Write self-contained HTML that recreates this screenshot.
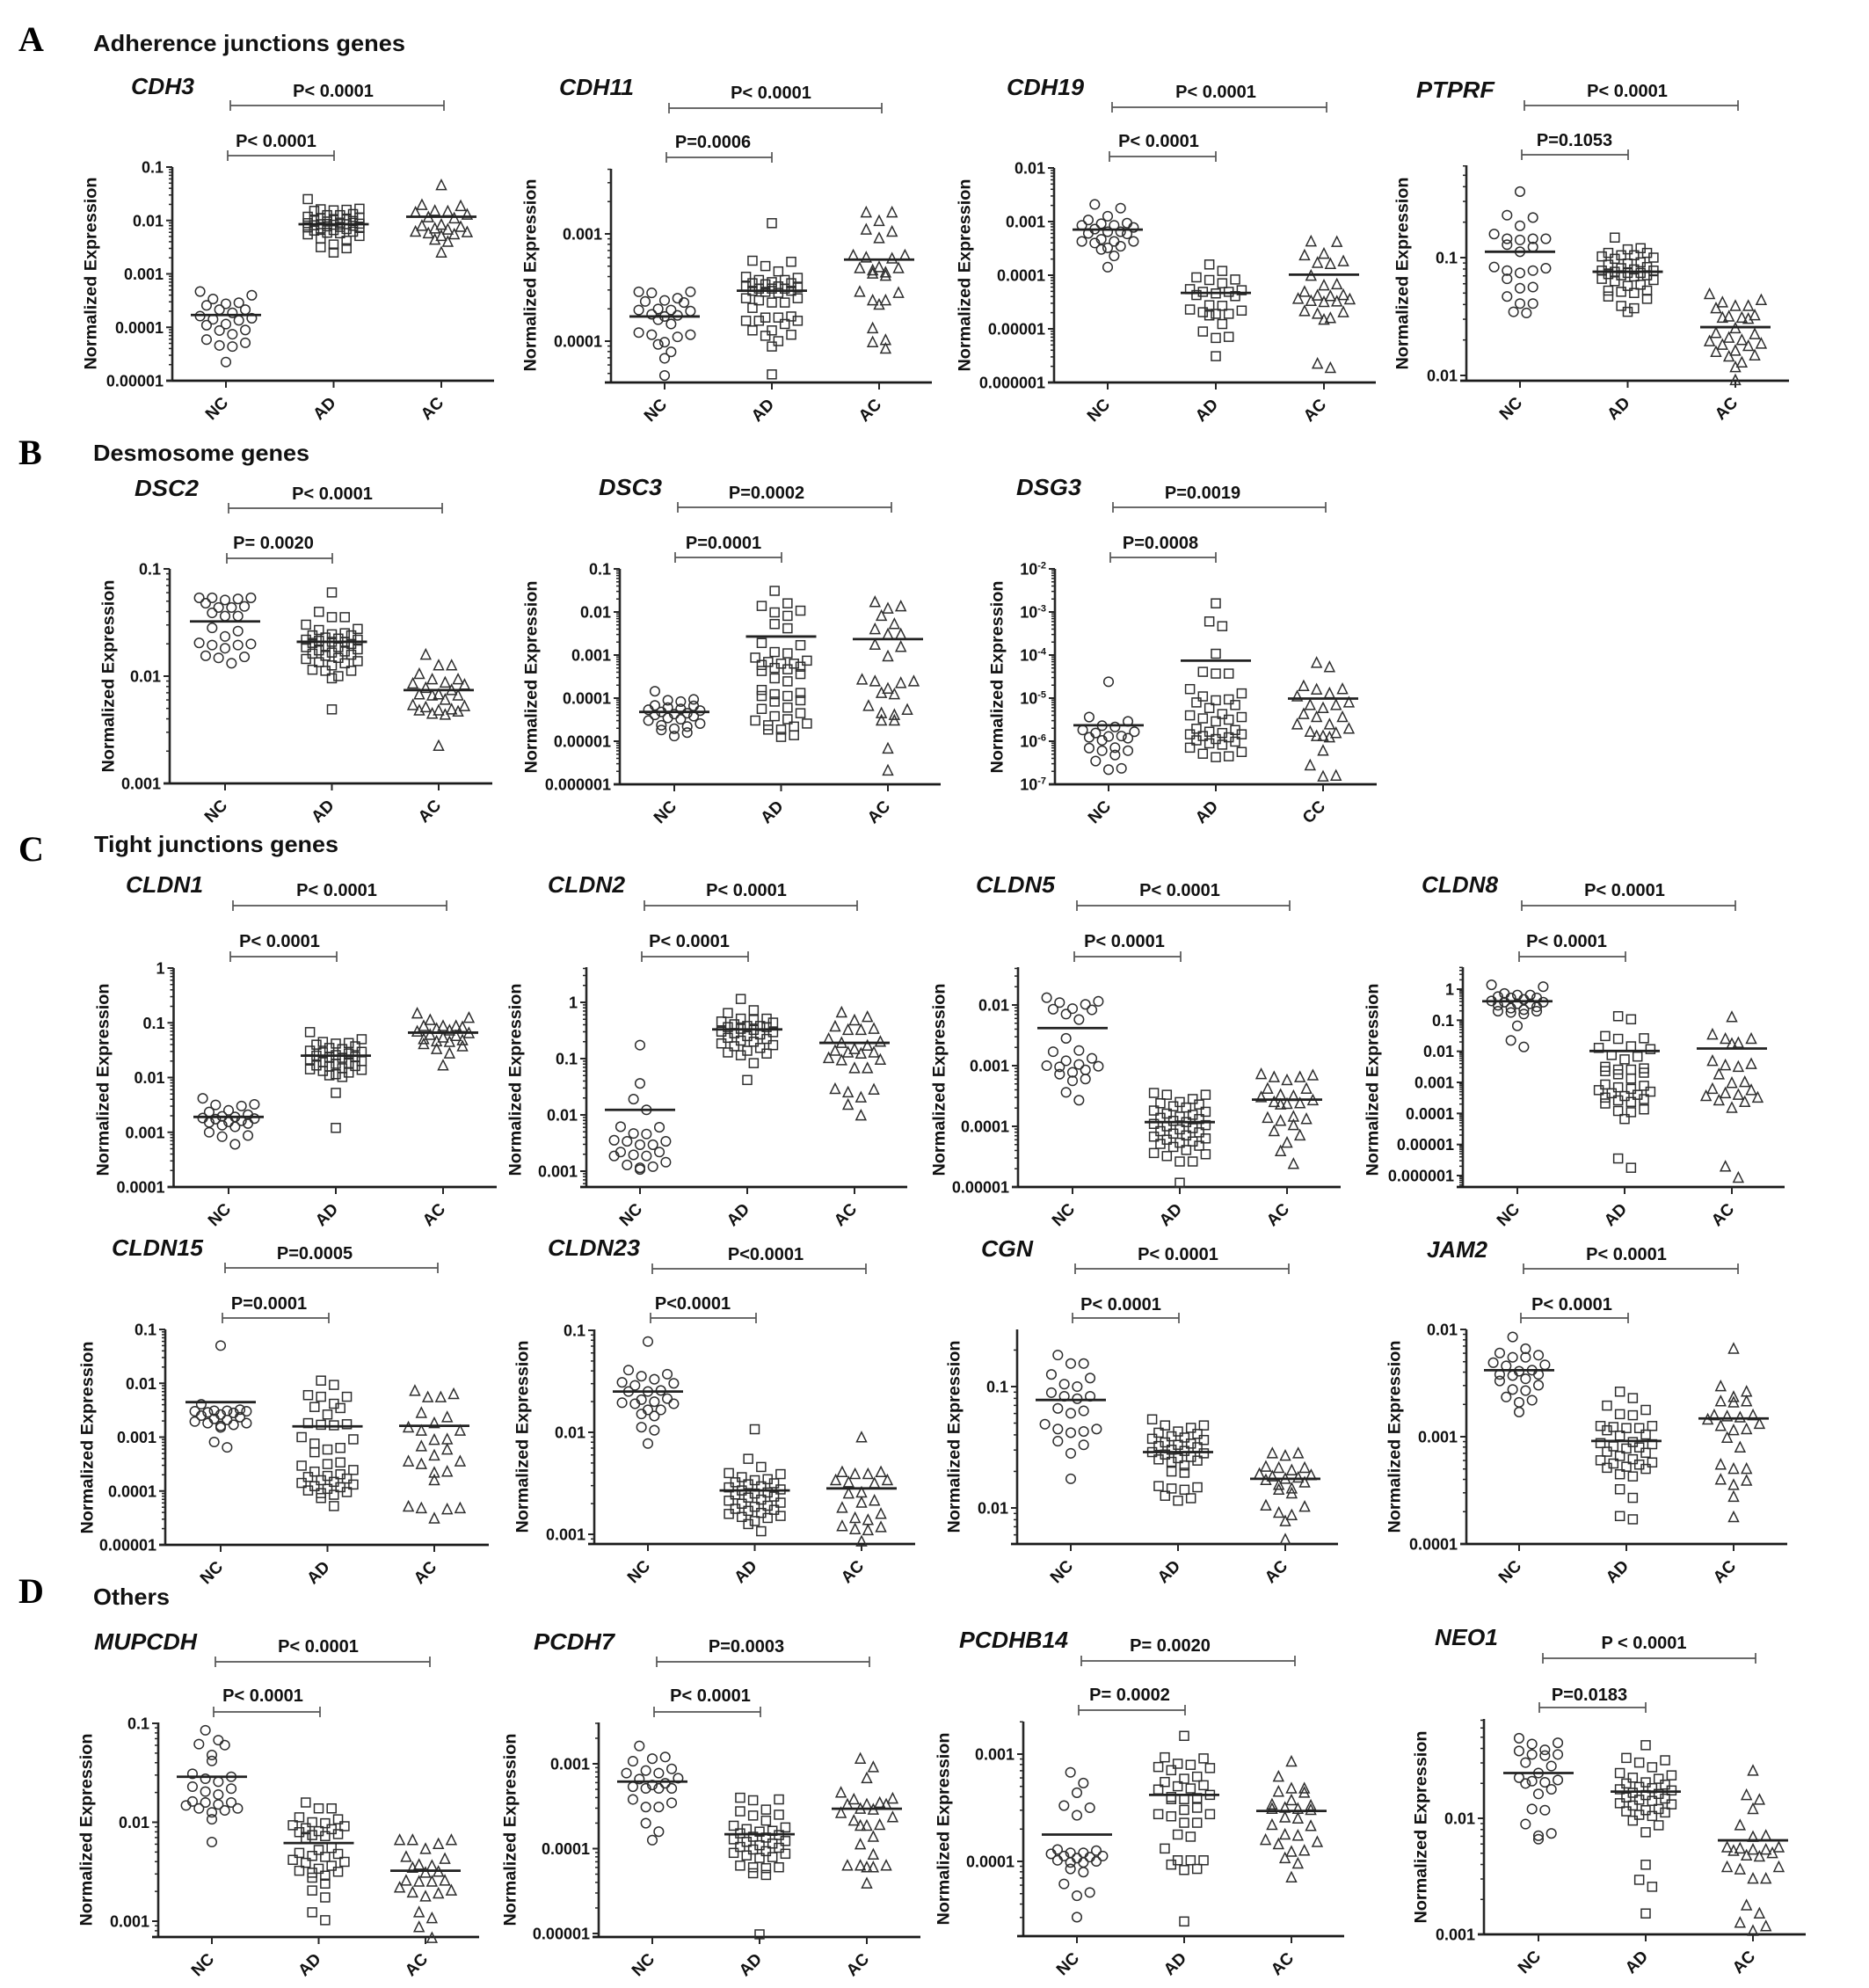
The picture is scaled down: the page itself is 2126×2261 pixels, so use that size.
<!DOCTYPE html>
<html lang="en">
<head>
<meta charset="utf-8">
<title>Normalized expression of junction genes</title>
<style>
html,body{margin:0;padding:0;background:#fff;}
svg{display:block;font-family:"Liberation Sans",sans-serif;}
.letter{font-family:"Liberation Serif",serif;font-weight:bold;font-size:40px;fill:#000;}
.head{font-weight:bold;font-size:26px;fill:#111;}
.gene{font-weight:bold;font-style:italic;font-size:26px;fill:#111;}
.p{font-weight:bold;font-size:20px;fill:#111;text-anchor:middle;}
.b{fill:none;stroke:#555;stroke-width:1.7;}
</style>
</head>
<body>
<svg id="figure" xmlns="http://www.w3.org/2000/svg" width="2126" height="2261" viewBox="0 0 2126 2261">
<rect width="2126" height="2261" fill="#fff"/>
<text class="letter" x="21" y="58">A</text>
<text class="head" x="106" y="58" textLength="355" lengthAdjust="spacingAndGlyphs">Adherence junctions genes</text>
<text class="letter" x="21" y="528">B</text>
<text class="head" x="106" y="524" textLength="246" lengthAdjust="spacingAndGlyphs">Desmosome genes</text>
<text class="letter" x="21" y="979">C</text>
<text class="head" x="107" y="969" textLength="278" lengthAdjust="spacingAndGlyphs">Tight junctions genes</text>
<text class="letter" x="21" y="1823">D</text>
<text class="head" x="106" y="1825" textLength="87" lengthAdjust="spacingAndGlyphs">Others</text>

<text class="gene" x="149" y="107" textLength="72" lengthAdjust="spacingAndGlyphs">CDH3</text>
<text class="p" x="379" y="110">P&lt; 0.0001</text>
<path class="b" d="M262 114V126M262 120H505M505 114V126"/>
<text class="p" x="314" y="167">P&lt; 0.0001</text>
<path class="b" d="M259 171V183M259 177H380M380 171V183"/>

<text class="gene" x="636" y="108" textLength="85" lengthAdjust="spacingAndGlyphs">CDH11</text>
<text class="p" x="877" y="112">P&lt; 0.0001</text>
<path class="b" d="M761 117V129M761 123H1003M1003 117V129"/>
<text class="p" x="811" y="168">P=0.0006</text>
<path class="b" d="M758 173V185M758 179H878M878 173V185"/>

<text class="gene" x="1145" y="108" textLength="88" lengthAdjust="spacingAndGlyphs">CDH19</text>
<text class="p" x="1383" y="111">P&lt; 0.0001</text>
<path class="b" d="M1265 116V128M1265 122H1509M1509 116V128"/>
<text class="p" x="1318" y="167">P&lt; 0.0001</text>
<path class="b" d="M1262 172V184M1262 178H1383M1383 172V184"/>

<text class="gene" x="1611" y="111" textLength="89" lengthAdjust="spacingAndGlyphs">PTPRF</text>
<text class="p" x="1851" y="110">P&lt; 0.0001</text>
<path class="b" d="M1734 114V126M1734 120H1977M1977 114V126"/>
<text class="p" x="1791" y="166">P=0.1053</text>
<path class="b" d="M1731 170V182M1731 176H1852M1852 170V182"/>

<text class="gene" x="153" y="564" textLength="73" lengthAdjust="spacingAndGlyphs">DSC2</text>
<text class="p" x="378" y="568">P&lt; 0.0001</text>
<path class="b" d="M260 572V584M260 578H503M503 572V584"/>
<text class="p" x="311" y="624">P= 0.0020</text>
<path class="b" d="M258 629V641M258 635H378M378 629V641"/>

<text class="gene" x="681" y="563" textLength="72" lengthAdjust="spacingAndGlyphs">DSC3</text>
<text class="p" x="872" y="567">P=0.0002</text>
<path class="b" d="M771 571V583M771 577H1014M1014 571V583"/>
<text class="p" x="823" y="624">P=0.0001</text>
<path class="b" d="M768 628V640M768 634H889M889 628V640"/>

<text class="gene" x="1156" y="563" textLength="74" lengthAdjust="spacingAndGlyphs">DSG3</text>
<text class="p" x="1368" y="567">P=0.0019</text>
<path class="b" d="M1266 571V583M1266 577H1508M1508 571V583"/>
<text class="p" x="1320" y="624">P=0.0008</text>
<path class="b" d="M1263 628V640M1263 634H1383M1383 628V640"/>

<text class="gene" x="143" y="1015" textLength="88" lengthAdjust="spacingAndGlyphs">CLDN1</text>
<text class="p" x="383" y="1019">P&lt; 0.0001</text>
<path class="b" d="M265 1024V1036M265 1030H508M508 1024V1036"/>
<text class="p" x="318" y="1077">P&lt; 0.0001</text>
<path class="b" d="M262 1082V1094M262 1088H383M383 1082V1094"/>

<text class="gene" x="623" y="1015" textLength="88" lengthAdjust="spacingAndGlyphs">CLDN2</text>
<text class="p" x="849" y="1019">P&lt; 0.0001</text>
<path class="b" d="M733 1024V1036M733 1030H975M975 1024V1036"/>
<text class="p" x="784" y="1077">P&lt; 0.0001</text>
<path class="b" d="M730 1082V1094M730 1088H851M851 1082V1094"/>

<text class="gene" x="1110" y="1015" textLength="90" lengthAdjust="spacingAndGlyphs">CLDN5</text>
<text class="p" x="1342" y="1019">P&lt; 0.0001</text>
<path class="b" d="M1225 1024V1036M1225 1030H1467M1467 1024V1036"/>
<text class="p" x="1279" y="1077">P&lt; 0.0001</text>
<path class="b" d="M1222 1082V1094M1222 1088H1343M1343 1082V1094"/>

<text class="gene" x="1617" y="1015" textLength="87" lengthAdjust="spacingAndGlyphs">CLDN8</text>
<text class="p" x="1848" y="1019">P&lt; 0.0001</text>
<path class="b" d="M1731 1024V1036M1731 1030H1974M1974 1024V1036"/>
<text class="p" x="1782" y="1077">P&lt; 0.0001</text>
<path class="b" d="M1728 1082V1094M1728 1088H1849M1849 1082V1094"/>

<text class="gene" x="127" y="1428" textLength="104" lengthAdjust="spacingAndGlyphs">CLDN15</text>
<text class="p" x="358" y="1432">P=0.0005</text>
<path class="b" d="M256 1436V1448M256 1442H498M498 1436V1448"/>
<text class="p" x="306" y="1489">P=0.0001</text>
<path class="b" d="M253 1493V1505M253 1499H374M374 1493V1505"/>

<text class="gene" x="623" y="1428" textLength="105" lengthAdjust="spacingAndGlyphs">CLDN23</text>
<text class="p" x="871" y="1433">P&lt;0.0001</text>
<path class="b" d="M742 1437V1449M742 1443H985M985 1437V1449"/>
<text class="p" x="788" y="1489">P&lt;0.0001</text>
<path class="b" d="M740 1493V1505M740 1499H860M860 1493V1505"/>

<text class="gene" x="1116" y="1429" textLength="59" lengthAdjust="spacingAndGlyphs">CGN</text>
<text class="p" x="1340" y="1433">P&lt; 0.0001</text>
<path class="b" d="M1223 1437V1449M1223 1443H1466M1466 1437V1449"/>
<text class="p" x="1275" y="1490">P&lt; 0.0001</text>
<path class="b" d="M1220 1493V1505M1220 1499H1341M1341 1493V1505"/>

<text class="gene" x="1623" y="1430" textLength="69" lengthAdjust="spacingAndGlyphs">JAM2</text>
<text class="p" x="1850" y="1433">P&lt; 0.0001</text>
<path class="b" d="M1733 1437V1449M1733 1443H1977M1977 1437V1449"/>
<text class="p" x="1788" y="1490">P&lt; 0.0001</text>
<path class="b" d="M1730 1493V1505M1730 1499H1852M1852 1493V1505"/>

<text class="gene" x="107" y="1876" textLength="117" lengthAdjust="spacingAndGlyphs">MUPCDH</text>
<text class="p" x="362" y="1879">P&lt; 0.0001</text>
<path class="b" d="M245 1884V1896M245 1890H489M489 1884V1896"/>
<text class="p" x="299" y="1935">P&lt; 0.0001</text>
<path class="b" d="M243 1941V1953M243 1947H364M364 1941V1953"/>

<text class="gene" x="607" y="1876" textLength="92" lengthAdjust="spacingAndGlyphs">PCDH7</text>
<text class="p" x="849" y="1879">P=0.0003</text>
<path class="b" d="M747 1884V1896M747 1890H989M989 1884V1896"/>
<text class="p" x="808" y="1935">P&lt; 0.0001</text>
<path class="b" d="M744 1941V1953M744 1947H865M865 1941V1953"/>

<text class="gene" x="1091" y="1874" textLength="124" lengthAdjust="spacingAndGlyphs">PCDHB14</text>
<text class="p" x="1331" y="1878">P= 0.0020</text>
<path class="b" d="M1230 1883V1895M1230 1889H1473M1473 1883V1895"/>
<text class="p" x="1285" y="1934">P= 0.0002</text>
<path class="b" d="M1227 1939V1951M1227 1945H1348M1348 1939V1951"/>

<text class="gene" x="1632" y="1871" textLength="72" lengthAdjust="spacingAndGlyphs">NEO1</text>
<text class="p" x="1870" y="1875">P &lt; 0.0001</text>
<path class="b" d="M1755 1880V1892M1755 1886H1997M1997 1880V1892"/>
<text class="p" x="1808" y="1934">P=0.0183</text>
<path class="b" d="M1751 1936V1948M1751 1942H1872M1872 1936V1948"/>
</svg>
<script>
// All series values are log10(normalized expression).
const groupsDefault=['NC','AD','AC'];
const groupsDsg3=['NC','AD','CC'];

const cdh3NC=[-3.33,-3.40,-3.47,-3.54,-3.56,-3.59,-3.67,-3.67,-3.73,-3.79,-3.83,-3.85,-3.87,-3.94,-3.96,-4.05,-4.06,-4.13,-4.23,-4.29,-4.34,-4.36,-4.65];
const cdh3AD=[-1.60,-1.78,-1.79,-1.80,-1.81,-1.82,-1.88,-1.90,-1.90,-1.93,-1.95,-1.96,-1.98,-1.99,-2.00,-2.01,-2.02,-2.04,-2.05,-2.06,-2.07,-2.07,-2.08,-2.09,-2.10,-2.11,-2.12,-2.13,-2.14,-2.15,-2.16,-2.18,-2.19,-2.21,-2.23,-2.24,-2.26,-2.29,-2.34,-2.38,-2.45,-2.50,-2.52,-2.60];
const cdh3AC=[-1.34,-1.71,-1.73,-1.82,-1.83,-1.85,-1.89,-1.94,-1.96,-2.08,-2.10,-2.12,-2.15,-2.17,-2.21,-2.22,-2.24,-2.26,-2.29,-2.36,-2.40,-2.60];
const cdh3Lines=[-3.77,-2.07,-1.93];
const cdh3Ticks=[-1,-2,-3,-4,-5];
const cdh3Labels=['0.1','0.01','0.001','0.0001','0.00001'];

const cdh11NC=[-3.54,-3.54,-3.55,-3.60,-3.62,-3.63,-3.64,-3.70,-3.71,-3.71,-3.72,-3.75,-3.76,-3.77,-3.80,-3.84,-3.92,-3.94,-3.94,-3.96,-4.01,-4.03,-4.10,-4.16,-4.32];
const cdh11AD=[-2.90,-3.25,-3.26,-3.30,-3.35,-3.40,-3.41,-3.43,-3.43,-3.45,-3.46,-3.46,-3.47,-3.49,-3.49,-3.50,-3.51,-3.51,-3.51,-3.53,-3.53,-3.54,-3.55,-3.60,-3.60,-3.62,-3.64,-3.64,-3.69,-3.77,-3.78,-3.78,-3.81,-3.81,-3.81,-3.84,-3.90,-3.90,-3.94,-3.95,-4.00,-4.05,-4.31];
const cdh11AC=[-2.80,-2.80,-2.88,-2.96,-2.98,-3.04,-3.20,-3.20,-3.22,-3.23,-3.31,-3.32,-3.32,-3.34,-3.36,-3.37,-3.39,-3.54,-3.55,-3.62,-3.62,-3.66,-3.88,-3.99,-4.01,-4.07];
const cdh11Lines=[-3.77,-3.53,-3.24];
const cdh11Ticks=[-3,-4];
const cdh11Labels=['0.001','0.0001'];

const cdh19NC=[-2.68,-2.75,-2.90,-2.97,-3.03,-3.04,-3.07,-3.07,-3.11,-3.14,-3.19,-3.19,-3.22,-3.23,-3.33,-3.37,-3.37,-3.37,-3.40,-3.46,-3.49,-3.52,-3.64,-3.85];
const cdh19AD=[-3.80,-3.92,-4.04,-4.08,-4.09,-4.15,-4.26,-4.28,-4.31,-4.31,-4.34,-4.37,-4.39,-4.56,-4.57,-4.64,-4.66,-4.69,-4.72,-4.72,-4.75,-4.91,-5.05,-5.15,-5.17,-5.51];
const cdh19AC=[-3.37,-3.38,-3.60,-3.63,-3.74,-3.77,-3.79,-4.01,-4.17,-4.19,-4.31,-4.37,-4.38,-4.39,-4.44,-4.45,-4.48,-4.49,-4.50,-4.67,-4.69,-4.72,-4.80,-4.83,-5.65,-5.73];
const cdh19Lines=[-3.15,-4.33,-3.99];
const cdh19Ticks=[-2,-3,-4,-5,-6];
const cdh19Labels=['0.01','0.001','0.0001','0.00001','0.000001'];

const ptprfNC=[-0.44,-0.64,-0.66,-0.73,-0.80,-0.84,-0.84,-0.84,-0.85,-0.89,-0.91,-0.95,-1.08,-1.09,-1.11,-1.11,-1.13,-1.18,-1.25,-1.26,-1.33,-1.39,-1.39,-1.46,-1.47];
const ptprfAD=[-0.83,-0.92,-0.93,-0.96,-0.96,-0.98,-0.98,-0.99,-1.00,-1.01,-1.04,-1.05,-1.06,-1.08,-1.09,-1.10,-1.11,-1.11,-1.12,-1.13,-1.13,-1.14,-1.15,-1.15,-1.16,-1.18,-1.19,-1.20,-1.23,-1.24,-1.28,-1.28,-1.29,-1.30,-1.33,-1.35,-1.41,-1.43,-1.46];
const ptprfAC=[-1.31,-1.36,-1.38,-1.41,-1.41,-1.43,-1.49,-1.50,-1.51,-1.51,-1.52,-1.60,-1.64,-1.65,-1.68,-1.70,-1.71,-1.73,-1.74,-1.75,-1.79,-1.80,-1.83,-1.84,-1.89,-1.93,-2.04];
const ptprfLines=[-0.95,-1.12,-1.59];
const ptprfTicks=[-1,-2];
const ptprfLabels=['0.1','0.01'];

const dsc2NC=[-1.27,-1.27,-1.27,-1.28,-1.29,-1.32,-1.35,-1.36,-1.36,-1.41,-1.44,-1.44,-1.55,-1.58,-1.63,-1.69,-1.70,-1.71,-1.71,-1.74,-1.81,-1.82,-1.83,-1.88];
const dsc2AD=[-1.22,-1.40,-1.45,-1.45,-1.52,-1.56,-1.57,-1.60,-1.61,-1.62,-1.62,-1.64,-1.65,-1.66,-1.66,-1.67,-1.68,-1.68,-1.69,-1.70,-1.72,-1.73,-1.73,-1.75,-1.76,-1.77,-1.78,-1.79,-1.80,-1.81,-1.83,-1.84,-1.86,-1.87,-1.88,-1.90,-1.94,-1.95,-1.95,-2.00,-2.02,-2.31];
const dsc2AC=[-1.80,-1.90,-1.90,-1.98,-2.03,-2.03,-2.06,-2.07,-2.08,-2.11,-2.13,-2.17,-2.17,-2.18,-2.18,-2.22,-2.27,-2.28,-2.29,-2.31,-2.32,-2.32,-2.33,-2.35,-2.36,-2.65];
const dsc2Lines=[-1.49,-1.68,-2.13];
const dsc2Ticks=[-1,-2,-3];
const dsc2Labels=['0.1','0.01','0.001'];

const dsc3NC=[-3.84,-4.03,-4.05,-4.08,-4.17,-4.18,-4.22,-4.25,-4.27,-4.29,-4.32,-4.35,-4.37,-4.39,-4.42,-4.46,-4.49,-4.52,-4.59,-4.63,-4.66,-4.71,-4.74,-4.80,-4.88];
const dsc3AD=[-1.51,-1.80,-1.86,-1.97,-2.01,-2.09,-2.28,-2.38,-2.72,-2.77,-2.93,-2.96,-3.06,-3.13,-3.16,-3.20,-3.20,-3.23,-3.27,-3.30,-3.33,-3.37,-3.44,-3.54,-3.61,-3.81,-3.88,-3.91,-3.95,-3.95,-4.05,-4.08,-4.22,-4.25,-4.35,-4.42,-4.49,-4.52,-4.59,-4.63,-4.66,-4.73,-4.73,-4.86,-4.90];
const dsc3AC=[-1.77,-1.87,-1.92,-2.09,-2.28,-2.40,-2.52,-2.52,-2.76,-2.81,-3.03,-3.57,-3.61,-3.61,-3.65,-3.78,-3.88,-3.91,-4.18,-4.27,-4.35,-4.39,-4.52,-4.52,-5.17,-5.68];
const dsc3Lines=[-4.32,-2.57,-2.63];
const dsc3Ticks=[-1,-2,-3,-4,-5,-6];
const dsc3Labels=['0.1','0.01','0.001','0.0001','0.00001','0.000001'];

const dsg3NC=[-4.62,-5.44,-5.54,-5.64,-5.67,-5.74,-5.78,-5.81,-5.88,-5.89,-5.91,-5.93,-5.98,-6.15,-6.16,-6.22,-6.22,-6.32,-6.46,-6.63,-6.66];
const dsg3AD=[-2.80,-3.22,-3.33,-3.97,-4.39,-4.43,-4.43,-4.79,-4.89,-4.96,-5.03,-5.05,-5.10,-5.16,-5.23,-5.37,-5.40,-5.44,-5.47,-5.50,-5.54,-5.71,-5.74,-5.78,-5.81,-5.84,-5.84,-5.88,-5.91,-5.95,-5.98,-6.01,-6.05,-6.08,-6.15,-6.25,-6.29,-6.35,-6.37];
const dsg3CC=[-4.18,-4.28,-4.72,-4.79,-4.80,-4.89,-4.96,-5.10,-5.16,-5.16,-5.23,-5.37,-5.44,-5.44,-5.61,-5.61,-5.71,-5.78,-5.81,-5.88,-5.88,-5.91,-6.22,-6.56,-6.80,-6.82];
const dsg3Lines=[-5.63,-4.13,-5.01];
const dsg3Ticks=[-2,-3,-4,-5,-6,-7];
const dsg3Labels=['-2','-3','-4','-5','-6','-7'];

const cldn1NC=[-2.38,-2.49,-2.50,-2.52,-2.60,-2.63,-2.68,-2.71,-2.72,-2.74,-2.75,-2.76,-2.79,-2.81,-2.82,-2.84,-2.87,-2.90,-3.00,-3.06,-3.08,-3.22];
const cldn1AD=[-1.17,-1.30,-1.35,-1.37,-1.38,-1.40,-1.43,-1.46,-1.48,-1.51,-1.53,-1.54,-1.56,-1.59,-1.60,-1.62,-1.63,-1.64,-1.67,-1.70,-1.72,-1.74,-1.75,-1.78,-1.79,-1.80,-1.83,-1.85,-1.86,-1.88,-1.91,-1.94,-1.96,-1.99,-2.28,-2.92];
const cldn1AC=[-0.83,-0.91,-0.95,-1.06,-1.06,-1.06,-1.08,-1.11,-1.14,-1.16,-1.19,-1.22,-1.24,-1.27,-1.30,-1.32,-1.34,-1.35,-1.39,-1.43,-1.48,-1.56,-1.78];
const cldn1Lines=[-2.72,-1.60,-1.18];
const cldn1Ticks=[0,-1,-2,-3,-4];
const cldn1Labels=['1','0.1','0.01','0.001','0.0001'];

const cldn2NC=[-0.76,-1.44,-1.72,-1.91,-2.21,-2.22,-2.33,-2.34,-2.45,-2.47,-2.47,-2.53,-2.53,-2.66,-2.66,-2.71,-2.73,-2.73,-2.84,-2.89,-2.92,-2.94,-2.97];
const cldn2AD=[0.06,-0.14,-0.19,-0.29,-0.29,-0.31,-0.34,-0.36,-0.39,-0.42,-0.42,-0.44,-0.44,-0.47,-0.49,-0.52,-0.53,-0.55,-0.57,-0.60,-0.63,-0.65,-0.68,-0.70,-0.73,-0.76,-0.78,-0.81,-0.86,-0.89,-0.91,-0.94,-1.08,-1.38];
const cldn2AC=[-0.18,-0.26,-0.32,-0.43,-0.47,-0.49,-0.49,-0.65,-0.70,-0.72,-0.77,-0.83,-0.86,-0.89,-0.89,-0.91,-0.99,-1.02,-1.03,-1.17,-1.17,-1.54,-1.55,-1.60,-1.69,-1.82,-2.01];
const cldn2Lines=[-1.91,-0.48,-0.72];
const cldn2Ticks=[0,-1,-2,-3];
const cldn2Labels=['1','0.1','0.01','0.001'];

const cldn5NC=[-1.88,-1.94,-1.96,-1.99,-2.06,-2.07,-2.08,-2.15,-2.24,-2.55,-2.75,-2.77,-2.88,-2.92,-2.98,-3.00,-3.01,-3.02,-3.07,-3.11,-3.14,-3.22,-3.25,-3.44,-3.57];
const cldn5AD=[-3.45,-3.48,-3.48,-3.55,-3.60,-3.62,-3.64,-3.67,-3.69,-3.74,-3.76,-3.79,-3.81,-3.84,-3.86,-3.88,-3.91,-3.93,-3.96,-3.98,-4.00,-4.03,-4.05,-4.08,-4.10,-4.12,-4.15,-4.17,-4.20,-4.22,-4.25,-4.27,-4.29,-4.32,-4.34,-4.39,-4.44,-4.46,-4.49,-4.58,-4.58,-4.93];
const cldn5AC=[-3.14,-3.16,-3.19,-3.19,-3.24,-3.38,-3.38,-3.48,-3.50,-3.52,-3.57,-3.60,-3.62,-3.63,-3.64,-3.84,-3.86,-3.88,-3.91,-3.98,-4.08,-4.15,-4.27,-4.41,-4.62];
const cldn5Lines=[-2.38,-3.93,-3.56];
const cldn5Ticks=[-2,-3,-4,-5];
const cldn5Labels=['0.01','0.001','0.0001','0.00001'];

const cldn8NC=[0.14,0.08,-0.14,-0.19,-0.19,-0.24,-0.28,-0.28,-0.33,-0.38,-0.42,-0.42,-0.47,-0.47,-0.52,-0.57,-0.61,-0.66,-0.71,-0.71,-0.75,-0.80,-1.18,-1.65,-1.86];
const cldn8AD=[-0.87,-0.97,-1.51,-1.58,-1.60,-1.84,-1.89,-1.93,-2.12,-2.17,-2.26,-2.50,-2.55,-2.59,-2.59,-2.64,-2.69,-2.74,-2.88,-3.07,-3.11,-3.16,-3.21,-3.25,-3.30,-3.35,-3.40,-3.44,-3.49,-3.54,-3.58,-3.63,-3.68,-3.87,-3.92,-3.96,-4.18,-5.45,-5.75];
const cldn8AC=[-0.90,-1.46,-1.60,-1.60,-1.73,-1.76,-2.31,-2.41,-2.45,-2.50,-2.74,-2.99,-3.02,-3.21,-3.25,-3.35,-3.40,-3.44,-3.49,-3.58,-3.63,-3.82,-5.71,-6.07];
const cldn8Lines=[-0.39,-1.99,-1.91];
const cldn8Ticks=[0,-1,-2,-3,-4,-5,-6];
const cldn8Labels=['1','0.1','0.01','0.001','0.0001','0.00001','0.000001'];

const cldn15NC=[-1.30,-2.39,-2.49,-2.51,-2.51,-2.52,-2.52,-2.54,-2.55,-2.58,-2.60,-2.63,-2.66,-2.68,-2.71,-2.74,-2.74,-2.77,-2.79,-2.82,-3.09,-3.19];
const cldn15AD=[-1.95,-2.03,-2.22,-2.25,-2.25,-2.38,-2.44,-2.46,-2.58,-2.74,-2.76,-2.77,-2.78,-3.00,-3.04,-3.12,-3.20,-3.23,-3.28,-3.47,-3.50,-3.53,-3.61,-3.64,-3.69,-3.72,-3.74,-3.77,-3.80,-3.83,-3.85,-3.88,-3.91,-3.93,-3.96,-3.99,-4.02,-4.04,-4.07,-4.13,-4.28];
const cldn15AC=[-2.14,-2.20,-2.26,-2.26,-2.55,-2.63,-2.74,-2.82,-2.88,-2.88,-3.04,-3.05,-3.17,-3.23,-3.34,-3.45,-3.45,-3.50,-3.64,-3.66,-3.80,-4.29,-4.32,-4.32,-4.34,-4.51];
const cldn15Lines=[-2.35,-2.80,-2.79];
const cldn15Ticks=[-1,-2,-3,-4,-5];
const cldn15Labels=['0.1','0.01','0.001','0.0001','0.00001'];

const cldn23NC=[-1.11,-1.39,-1.43,-1.45,-1.48,-1.51,-1.52,-1.54,-1.59,-1.60,-1.60,-1.67,-1.68,-1.70,-1.71,-1.72,-1.72,-1.78,-1.78,-1.82,-1.84,-1.95,-1.98,-2.11];
const cldn23AD=[-1.97,-2.26,-2.34,-2.40,-2.41,-2.44,-2.46,-2.47,-2.49,-2.50,-2.51,-2.53,-2.54,-2.56,-2.57,-2.59,-2.60,-2.61,-2.63,-2.64,-2.66,-2.67,-2.69,-2.70,-2.72,-2.73,-2.75,-2.76,-2.77,-2.79,-2.80,-2.82,-2.83,-2.84,-2.87,-2.90,-2.97];
const cldn23AC=[-2.05,-2.39,-2.39,-2.41,-2.41,-2.47,-2.47,-2.49,-2.50,-2.59,-2.60,-2.67,-2.69,-2.74,-2.80,-2.84,-2.86,-2.92,-2.93,-2.95,-2.96,-3.07];
const cldn23Lines=[-1.60,-2.57,-2.55];
const cldn23Ticks=[-1,-2,-3];
const cldn23Labels=['0.1','0.01','0.001'];

const cgnNC=[-0.74,-0.81,-0.81,-0.90,-0.93,-0.98,-1.00,-1.05,-1.08,-1.08,-1.10,-1.18,-1.20,-1.22,-1.31,-1.35,-1.35,-1.37,-1.38,-1.45,-1.48,-1.55,-1.76];
const cgnAD=[-1.27,-1.32,-1.32,-1.34,-1.37,-1.38,-1.39,-1.41,-1.42,-1.43,-1.44,-1.46,-1.47,-1.48,-1.49,-1.50,-1.52,-1.53,-1.54,-1.55,-1.56,-1.58,-1.59,-1.60,-1.61,-1.62,-1.65,-1.70,-1.71,-1.82,-1.83,-1.84,-1.85,-1.90,-1.92,-1.94];
const cgnAC=[-1.55,-1.55,-1.57,-1.66,-1.67,-1.67,-1.69,-1.72,-1.73,-1.74,-1.75,-1.76,-1.77,-1.79,-1.81,-1.84,-1.85,-1.88,-1.98,-1.99,-2.04,-2.06,-2.11,-2.26];
const cgnLines=[-1.11,-1.54,-1.76];
const cgnTicks=[-1,-2];
const cgnLabels=['0.1','0.01'];

const jam2NC=[-2.07,-2.18,-2.22,-2.24,-2.26,-2.26,-2.31,-2.33,-2.34,-2.38,-2.39,-2.42,-2.42,-2.43,-2.46,-2.48,-2.52,-2.56,-2.57,-2.63,-2.66,-2.68,-2.77];
const jam2AD=[-2.58,-2.64,-2.71,-2.75,-2.79,-2.80,-2.90,-2.90,-2.91,-2.92,-2.92,-2.94,-2.98,-2.99,-3.05,-3.06,-3.07,-3.09,-3.10,-3.11,-3.14,-3.15,-3.18,-3.21,-3.22,-3.24,-3.25,-3.26,-3.28,-3.29,-3.30,-3.35,-3.37,-3.49,-3.57,-3.74,-3.77];
const jam2AC=[-2.18,-2.53,-2.58,-2.63,-2.67,-2.67,-2.68,-2.80,-2.80,-2.81,-2.82,-2.84,-2.88,-2.90,-2.93,-2.94,-3.01,-3.10,-3.26,-3.30,-3.30,-3.40,-3.41,-3.45,-3.56,-3.75];
const jam2Lines=[-2.38,-3.04,-2.83];
const jam2Ticks=[-2,-3,-4];
const jam2Labels=['0.01','0.001','0.0001'];

const mupcdhNC=[-1.07,-1.17,-1.21,-1.22,-1.32,-1.38,-1.51,-1.54,-1.56,-1.59,-1.64,-1.66,-1.69,-1.72,-1.79,-1.80,-1.80,-1.82,-1.83,-1.86,-1.86,-1.88,-1.90,-1.97,-2.20];
const mupcdhAD=[-1.80,-1.86,-1.86,-1.95,-1.97,-2.00,-2.01,-2.03,-2.04,-2.06,-2.07,-2.09,-2.10,-2.12,-2.13,-2.14,-2.16,-2.26,-2.28,-2.31,-2.32,-2.34,-2.35,-2.38,-2.40,-2.41,-2.44,-2.47,-2.49,-2.50,-2.51,-2.54,-2.56,-2.62,-2.69,-2.76,-2.91,-2.99];
const mupcdhAC=[-2.18,-2.18,-2.18,-2.22,-2.27,-2.35,-2.37,-2.43,-2.44,-2.46,-2.50,-2.51,-2.59,-2.59,-2.60,-2.60,-2.66,-2.69,-2.71,-2.72,-2.75,-2.91,-2.97,-3.06,-3.17];
const mupcdhLines=[-1.54,-2.21,-2.49];
const mupcdhTicks=[-1,-2,-3];
const mupcdhLabels=['0.1','0.01','0.001'];

const pcdh7NC=[-2.79,-2.92,-2.94,-2.97,-3.06,-3.08,-3.11,-3.11,-3.17,-3.18,-3.23,-3.25,-3.27,-3.29,-3.29,-3.29,-3.42,-3.46,-3.51,-3.51,-3.70,-3.80,-3.90];
const pcdh7AD=[-3.40,-3.42,-3.43,-3.54,-3.56,-3.60,-3.61,-3.67,-3.73,-3.75,-3.77,-3.79,-3.80,-3.82,-3.84,-3.86,-3.87,-3.89,-3.91,-3.92,-3.94,-3.96,-3.98,-3.99,-4.01,-4.03,-4.05,-4.06,-4.08,-4.10,-4.11,-4.20,-4.22,-4.22,-4.23,-4.29,-4.31,-5.01];
const pcdh7AC=[-2.94,-3.04,-3.17,-3.34,-3.41,-3.42,-3.46,-3.48,-3.48,-3.48,-3.53,-3.54,-3.58,-3.63,-3.67,-3.72,-3.73,-3.73,-3.86,-3.95,-4.07,-4.20,-4.20,-4.20,-4.22,-4.22,-4.41];
const pcdh7Lines=[-3.21,-3.83,-3.53];
const pcdh7Ticks=[-3,-4,-5];
const pcdh7Labels=['0.001','0.0001','0.00001'];

const pcdhb14NC=[-3.17,-3.27,-3.36,-3.48,-3.50,-3.57,-3.89,-3.90,-3.92,-3.92,-3.93,-3.95,-3.95,-3.96,-3.97,-3.99,-4.00,-4.01,-4.01,-4.07,-4.10,-4.21,-4.29,-4.32,-4.52];
const pcdhb14AD=[-2.83,-3.03,-3.04,-3.09,-3.10,-3.12,-3.13,-3.15,-3.21,-3.23,-3.26,-3.29,-3.30,-3.32,-3.33,-3.38,-3.40,-3.41,-3.42,-3.42,-3.50,-3.52,-3.56,-3.56,-3.58,-3.64,-3.64,-3.75,-3.77,-3.88,-3.99,-3.99,-3.99,-4.03,-4.07,-4.08,-4.56];
const pcdhb14AC=[-3.07,-3.21,-3.32,-3.32,-3.35,-3.36,-3.43,-3.47,-3.48,-3.50,-3.51,-3.51,-3.52,-3.59,-3.60,-3.66,-3.67,-3.75,-3.76,-3.80,-3.82,-3.84,-3.90,-3.91,-3.97,-4.02,-4.15];
const pcdhb14Lines=[-3.75,-3.38,-3.53];
const pcdhb14Ticks=[-3,-4];
const pcdhb14Labels=['0.001','0.0001'];

const neo1NC=[-1.31,-1.35,-1.36,-1.41,-1.42,-1.45,-1.45,-1.46,-1.52,-1.55,-1.61,-1.65,-1.67,-1.68,-1.69,-1.70,-1.75,-1.79,-1.92,-1.93,-2.05,-2.13,-2.15,-2.18];
const neo1AD=[-1.37,-1.48,-1.50,-1.52,-1.56,-1.61,-1.63,-1.65,-1.66,-1.69,-1.70,-1.71,-1.73,-1.74,-1.75,-1.76,-1.78,-1.79,-1.80,-1.82,-1.83,-1.84,-1.85,-1.87,-1.88,-1.89,-1.92,-1.93,-1.94,-1.95,-1.97,-1.98,-2.02,-2.06,-2.12,-2.40,-2.53,-2.59,-2.82];
const neo1AC=[-1.59,-1.80,-1.84,-1.92,-2.06,-2.15,-2.16,-2.25,-2.25,-2.26,-2.27,-2.27,-2.28,-2.30,-2.32,-2.33,-2.42,-2.42,-2.44,-2.52,-2.52,-2.75,-2.82,-2.90,-2.93,-2.97];
const neo1Lines=[-1.61,-1.77,-2.19];
const neo1Ticks=[-2,-3];
const neo1Labels=['0.01','0.001'];

// Panel layout (axis geometry, pixels). anchors map two log10 values to two pixel rows.
const panels=[
 {axisX:196,top:190,base:433,right:562,x0:257,dx:122.5,anchors:[-1,190,-5,433],titleX:104,series:[cdh3NC,cdh3AD,cdh3AC],lines:cdh3Lines,ticks:cdh3Ticks,labels:cdh3Labels,groups:groupsDefault},
 {axisX:695,top:192,base:435,right:1060,x0:756,dx:122,anchors:[-3,266,-4,388],titleX:604,series:[cdh11NC,cdh11AD,cdh11AC],lines:cdh11Lines,ticks:cdh11Ticks,labels:cdh11Labels,groups:groupsDefault},
 {axisX:1199,top:191,base:435,right:1565,x0:1260,dx:123,anchors:[-2,191,-6,435],titleX:1098,series:[cdh19NC,cdh19AD,cdh19AC],lines:cdh19Lines,ticks:cdh19Ticks,labels:cdh19Labels,groups:groupsDefault},
 {axisX:1668,top:188,base:433,right:2035,x0:1729,dx:122.5,anchors:[-1,293,-2,427],titleX:1596,series:[ptprfNC,ptprfAD,ptprfAC],lines:ptprfLines,ticks:ptprfTicks,labels:ptprfLabels,groups:groupsDefault},
 {axisX:193,top:647,base:891,right:560,x0:256,dx:121.5,anchors:[-1,647,-3,891],titleX:124,series:[dsc2NC,dsc2AD,dsc2AC],lines:dsc2Lines,ticks:dsc2Ticks,labels:dsc2Labels,groups:groupsDefault},
 {axisX:705,top:647,base:892,right:1070,x0:767,dx:121.5,anchors:[-1,647,-6,892],titleX:605,series:[dsc3NC,dsc3AD,dsc3AC],lines:dsc3Lines,ticks:dsc3Ticks,labels:dsc3Labels,groups:groupsDefault},
 {axisX:1200,top:647,base:892,right:1566,x0:1261,dx:122,anchors:[-2,647,-7,892],titleX:1135,series:[dsg3NC,dsg3AD,dsg3CC],lines:dsg3Lines,ticks:dsg3Ticks,labels:dsg3Labels,groups:groupsDsg3,power:true},
 {axisX:197.5,top:1101,base:1350,right:565,x0:260,dx:122,anchors:[0,1101,-4,1350],titleX:118,series:[cldn1NC,cldn1AD,cldn1AC],lines:cldn1Lines,ticks:cldn1Ticks,labels:cldn1Labels,groups:groupsDefault},
 {axisX:667,top:1100,base:1350,right:1032,x0:728,dx:122,anchors:[0,1140,-3,1332],titleX:587,series:[cldn2NC,cldn2AD,cldn2AC],lines:cldn2Lines,ticks:cldn2Ticks,labels:cldn2Labels,groups:groupsDefault},
 {axisX:1158,top:1100,base:1350,right:1525,x0:1220,dx:122,anchors:[-2,1143,-5,1350],titleX:1069,series:[cldn5NC,cldn5AD,cldn5AC],lines:cldn5Lines,ticks:cldn5Ticks,labels:cldn5Labels,groups:groupsDefault},
 {axisX:1664,top:1100,base:1350,right:2030,x0:1726,dx:122,anchors:[0,1125,-6,1337],titleX:1562,series:[cldn8NC,cldn8AD,cldn8AC],lines:cldn8Lines,ticks:cldn8Ticks,labels:cldn8Labels,groups:groupsDefault},
 {axisX:188,top:1512,base:1757,right:556,x0:251,dx:121.5,anchors:[-1,1512,-5,1757],titleX:100,series:[cldn15NC,cldn15AD,cldn15AC],lines:cldn15Lines,ticks:cldn15Ticks,labels:cldn15Labels,groups:groupsDefault},
 {axisX:676,top:1512,base:1756,right:1041,x0:737,dx:121.5,anchors:[-1,1513,-3,1745],titleX:595,series:[cldn23NC,cldn23AD,cldn23AC],lines:cldn23Lines,ticks:cldn23Ticks,labels:cldn23Labels,groups:groupsDefault},
 {axisX:1157,top:1512,base:1756,right:1522,x0:1218,dx:122,anchors:[-1,1577,-2,1715],titleX:1086,series:[cgnNC,cgnAD,cgnAC],lines:cgnLines,ticks:cgnTicks,labels:cgnLabels,groups:groupsDefault},
 {axisX:1668,top:1512,base:1756,right:2033,x0:1728,dx:122,anchors:[-2,1512,-4,1756],titleX:1587,series:[jam2NC,jam2AD,jam2AC],lines:jam2Lines,ticks:jam2Ticks,labels:jam2Labels,groups:groupsDefault},
 {axisX:180,top:1959,base:2203,right:545,x0:241,dx:121.5,anchors:[-1,1960,-3,2185],titleX:99,series:[mupcdhNC,mupcdhAD,mupcdhAC],lines:mupcdhLines,ticks:mupcdhTicks,labels:mupcdhLabels,groups:groupsDefault},
 {axisX:681,top:1959,base:2203,right:1047,x0:742,dx:122,anchors:[-3,2006,-5,2199],titleX:581,series:[pcdh7NC,pcdh7AD,pcdh7AC],lines:pcdh7Lines,ticks:pcdh7Ticks,labels:pcdh7Labels,groups:groupsDefault},
 {axisX:1164,top:1958,base:2202,right:1529,x0:1225,dx:122,anchors:[-3,1995,-4,2117],titleX:1074,series:[pcdhb14NC,pcdhb14AD,pcdhb14AC],lines:pcdhb14Lines,ticks:pcdhb14Ticks,labels:pcdhb14Labels,groups:groupsDefault},
 {axisX:1688,top:1955,base:2200,right:2054,x0:1750,dx:122,anchors:[-2,2068,-3,2200],titleX:1617,series:[neo1NC,neo1AD,neo1AC],lines:neo1Lines,ticks:neo1Ticks,labels:neo1Labels,groups:groupsDefault}
];

const svg=document.getElementById('figure');
const NS='http://www.w3.org/2000/svg';
const INK='#262626';
const BIN=14.5, STEP=14.7;

function make(tag,attrs,parent){
  const n=document.createElementNS(NS,tag);
  for(const k in attrs){n.setAttribute(k,attrs[k]);}
  parent.appendChild(n);
  return n;
}
function yScale(p,v){
  const a=p.anchors;
  return a[1]+(v-a[0])*(a[3]-a[1])/(a[2]-a[0]);
}
function xScale(p,i){return p.x0+i*p.dx;}

// Prism-style binned swarm: rows hold at most 5 or 4 marks, highest values sit outermost.
function swarm(p,values,cx){
  const ys=values.map(function(v){return yScale(p,v);}).sort(function(a,b){return a-b;});
  const rows=[];
  let row=null;
  ys.forEach(function(y){
    if(!row||y-row[0]>BIN||row.length>=row.cap){
      row=[y];
      row.cap=rows.length%2===0?5:4;
      rows.push(row);
    }else{
      row.push(y);
    }
  });
  const out=[];
  rows.forEach(function(r){
    const n=r.length;
    let lo=0,hi=n-1;
    r.forEach(function(y,i){
      const slot=(i%2===0)?lo++:hi--;
      out.push({x:cx+(slot-(n-1)/2)*STEP,y:y});
    });
  });
  return out;
}

panels.forEach(function(p){
  const g=make('g',{},svg);
  
  

  const title=make('text',{x:0,y:0,transform:'translate('+p.titleX+','+(p.base-122)+') rotate(-90)','text-anchor':'middle','dominant-baseline':'central','font-size':19,'font-weight':'bold',fill:'#111',textLength:219,lengthAdjust:'spacingAndGlyphs'},g);
  title.textContent='Normalized Expression';
  
  

  const yAxis=make('line',{x1:p.axisX,x2:p.axisX,y1:p.top,y2:p.base,stroke:INK,'stroke-width':2.6},g);
  
  

  const xAxis=make('line',{x1:p.axisX-7,x2:p.right,y1:p.base,y2:p.base,stroke:'#1a1a1a','stroke-width':2.8},g);
  
  

  // minor log ticks
  const lowLog=p.anchors[0]+(p.base-p.anchors[1])*(p.anchors[2]-p.anchors[0])/(p.anchors[3]-p.anchors[1]);
  const topLog=p.anchors[0]+(p.top-p.anchors[1])*(p.anchors[2]-p.anchors[0])/(p.anchors[3]-p.anchors[1]);
  for(let d=Math.floor(lowLog);d<Math.ceil(topLog);d++){
    for(let m=2;m<10;m++){
      const lv=d+Math.log10(m);
      if(lv<lowLog||lv>topLog) continue;
      const y=yScale(p,lv);
      const minor=make('line',{x1:p.axisX-4,x2:p.axisX,y1:y,y2:y,stroke:INK,'stroke-width':1.5},g);
      
      
    }
  }
  p.ticks.forEach(function(t,i){
    const y=yScale(p,t);
    const tick=make('line',{x1:p.axisX-7,x2:p.axisX,y1:y,y2:y,stroke:INK,'stroke-width':2},g);
    
    
    const lab=make('text',{x:p.axisX-10,y:y+6.5,'text-anchor':'end','font-size':18,'font-weight':'bold',fill:'#111'},g);
    
    
    if(p.power){
      lab.textContent='10';
      const sup=make('tspan',{dy:-7,'font-size':11},lab);
      sup.textContent=p.labels[i];
    }else{
      lab.textContent=p.labels[i];
    }
  });

  p.groups.forEach(function(name,i){
    const cx=xScale(p,i);
    const tick=make('line',{x1:cx,x2:cx,y1:p.base,y2:p.base+8,stroke:INK,'stroke-width':2},g);
    
    
    const lab=make('text',{x:0,y:0,transform:'translate('+(cx-10)+','+(p.base+32)+') rotate(-45)','text-anchor':'middle','dominant-baseline':'central','font-size':19,'font-weight':'bold',fill:'#111'},g);
    lab.textContent=name;
    
    

    swarm(p,p.series[i],cx).forEach(function(pt){
      let m;
      if(i===0){
        m=make('circle',{cx:pt.x,cy:pt.y,r:5.3,fill:'none',stroke:'#2e2e2e','stroke-width':1.5},g);
        
      }else if(i===1){
        m=make('rect',{x:pt.x-5,y:pt.y-5,width:10,height:10,fill:'none',stroke:'#2e2e2e','stroke-width':1.5},g);
        
      }else{
        m=make('path',{d:'M'+pt.x+' '+(pt.y-6)+'L'+(pt.x+5.5)+' '+(pt.y+5)+'H'+(pt.x-5.5)+'Z',fill:'none',stroke:'#2e2e2e','stroke-width':1.5},g);
        
      }
      
    });

    const yLine=yScale(p,p.lines[i]);
    const line=make('line',{x1:cx-40,x2:cx+40,y1:yLine,y2:yLine,stroke:'#222','stroke-width':2.8},g);
    
    
  });
});
</script>
</body>
</html>
